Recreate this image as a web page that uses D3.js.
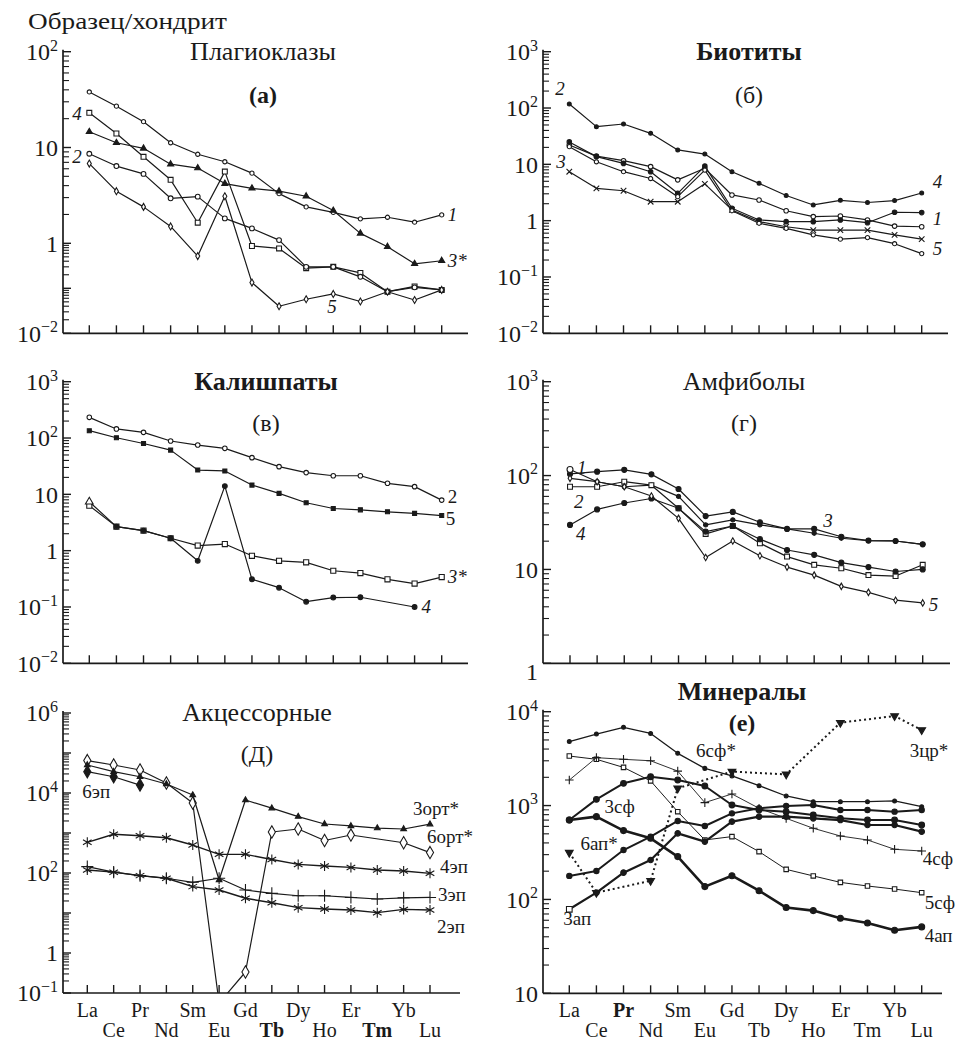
<!DOCTYPE html>
<html lang="ru">
<head>
<meta charset="utf-8">
<title>Спектры РЗЭ в минералах</title>
<script src="https://cdn.jsdelivr.net/npm/d3@7"></script>
<style>
  html, body { margin: 0; background: #fff; }
  svg text { font-family: "Liberation Serif", "DejaVu Serif", serif; fill: #1a1a1a; }
</style>
</head>
<body>
<svg id="chart" width="963" height="1043"></svg>
<script>
const REE = ["La", "Ce", "Pr", "Nd", "Sm", "Eu", "Gd", "Tb", "Dy", "Ho", "Er", "Tm", "Yb", "Lu"];

// (а) Плагиоклазы
const plag1 = [38, 27, 18.6, 11.2, 8.5, 7.1, 5.4, 3.3, 2.4, 2.1, 1.8, 1.87, 1.66, 1.98];
const plag2 = [8.6, 6.4, 5.3, 2.95, 3.07, 1.82, 1.43, 1.08, 0.30, 0.30, 0.18, 0.084, 0.105, 0.092];
const plag3 = [14.6, 11.2, 9.8, 6.7, 6.1, 4.2, 3.75, 3.5, 3.1, 2.2, 1.27, 0.84, 0.35, 0.41];
const plag4 = [23, 14, 8.0, 4.6, 1.64, 5.6, 0.87, 0.77, 0.28, 0.30, 0.22, 0.084, 0.11, 0.092];
const plag5 = [6.8, 3.5, 2.4, 1.5, 0.52, 3.1, 0.134, 0.040, 0.057, 0.075, 0.051, 0.084, 0.055, 0.092];

// (б) Биотиты
const bioTop = [118, 46.7, 52, 35.5, 18, 15.2, 7.4, 4.6, 2.8, 1.9, 2.3, 2.1, 2.27, 3.1];
const bioMid = [22, 14, 11.6, 9.1, 5.3, 8.5, 2.86, 2.33, 1.5, 1.18, 1.21, 1.03, 0.80, 0.78];
const bio1 = [25, 13.7, 10.4, 7.4, 3.06, 9.3, 1.66, 1.03, 0.96, 0.96, 1.03, 0.92, 1.41, 1.39];
const bio3 = [7.4, 3.75, 3.4, 2.17, 2.17, 4.5, 1.55, 0.96, 0.78, 0.68, 0.68, 0.68, 0.56, 0.47];
const bio5 = [20.6, 11.1, 7.4, 5.6, 2.67, 7.9, 1.5, 0.90, 0.73, 0.56, 0.47, 0.50, 0.39, 0.26];

// (в) Калишпаты
const ksp2 = [233, 145, 126, 88.5, 75, 65.6, 44.8, 31, 24.3, 21.4, 21.4, 15.7, 13.7, 7.9];
const ksp5 = [135, 101, 80, 61, 27, 26, 14.6, 10.4, 7.1, 5.6, 5.3, 4.9, 4.6, 4.2];
const ksp3 = [6.3, 2.67, 2.27, 1.66, 1.23, 1.31, 0.81, 0.66, 0.62, 0.44, 0.40, 0.31, 0.26, 0.34];
const ksp4 = [7.4, 2.67, 2.27, 1.66, 0.66, 14, 0.31, 0.22, 0.124, 0.147, 0.149, null, 0.10, null];

// (г) Амфиболы
const amph1 = [116, 86, 76, 79, 60, 29.8, 33.7, 29.8, 27, 24.3, 21.5, 20.3, 20.1, 18.5];
const amph2 = [76, 76, 86, 79, 44.8, 23.9, 29, 19, 13.7, 11.2, 10.3, 8.7, 8.5, 11.2];
const amph3 = [104, 110, 115, 103, 72, 37, 41, 31.8, 27, 27, 22.3, 20.3, 20.1, 18.5];
const amph4 = [29.8, 43.6, 51, 57, 44.8, 25.3, 29, 21, 16.1, 14.3, 11.8, 10.6, 9.5, 10.0];
const amph5 = [93.5, 86, 76, 60.5, 35, 13.4, 20.1, 14, 10.6, 8.7, 6.6, 5.7, 4.7, 4.4];

// (Д) Акцессорные
const acc6ort = [64600, 50100, 37600, 17800, 5620, 0.056, 0.335, 1060, 1260, 650, 890, null, 570, 324];
const acc3ort = [50100, 34100, 25500, 16800, 8900, 67, 6680, 4170, 2570, 1680, 1500, 1320, 1260, 1660];
const acc6ep = [34100, 25500, 15800, null, null, null, null, null, null, null, null, null, null, null];
const acc4ep = [584, 930, 855, 760, 500, 293, 293, 218, 164, 150, 138, 119, 112, 98];
const acc3ep = [144, 105, 86, 74, 58.6, 74, 37.6, 31, 27, 27, 24.5, 22.4, 24, 24.5];
const acc2ep = [119, 105, 86, 74, 45.7, 37.6, 23.4, 18.1, 13.6, 12.6, 11.9, 10.2, 12.3, 11.9];

// (е) Минералы
const min6sf = [4800, 5780, 6810, 5870, 3600, 2490, 2070, 1630, 1265, 1100, 1100, 1100, 1120, 973];
const min5sf = [3370, 3110, 2550, 1830, 861, 430, 467, 323, 209, 178, 152, 139, 129, 118];
const min4sf = [1870, 3240, 3110, 3000, 2330, 1075, 1330, 935, 731, 573, 474, 430, 342, 328];
const min3sf = [701, 1165, 1725, 2030, 1870, 1615, 1014, 898, 861, 794, 731, 701, 701, 621];
const min6ap = [178, 201, 336, 467, 686, 606, 826, 935, 989, 1014, 898, 898, 861, 898];
const min3ap = [78.5, 118, 193, 263, 506, 413, 675, 762, 762, 731, 701, 621, 621, 527];
const min4ap = [701, 762, 541, 448, 286, 137, 179, 124, 82, 76, 63, 56, 47, 51];
const min3cr = [315, 118, null, 158, 1527, null, 2300, null, 2150, null, 7640, null, 9000, 6380];

const ink = "#1a1a1a";
const svg = d3.select("#chart");
const defs = svg.append("defs");

const sym = {
  circle: d3.symbolCircle, square: d3.symbolSquare, triangle: d3.symbolTriangle,
  diamond: d3.symbolDiamond, plus: d3.symbolPlus, times: d3.symbolTimes, asterisk: d3.symbolAsterisk
};
const strokeOnly = new Set(["plus", "times", "asterisk"]);

// panel settings
const panels = [
  {
    title: "Плагиоклазы", tx: 263, ty: 60, sub: "(а)", subBold: true, sy: 103,
    x0: 63, xEnd: 468, xr: [89.3, 441.7], yd: [0.01, 1, 100], yr: [333.3, 243.3, 51.7],
    yTicks: [[100, "10", "2"], [10, "10"], [1, "1"], [0.01, "10", "−2"]],
    series: [
      {v: plag1, m: {t: "circle", s: 14}},
      {v: plag3, m: {t: "triangle", s: 16, f: true}},
      {v: plag4, m: {t: "square", s: 24}},
      {v: plag2, m: {t: "circle", s: 18}},
      {v: plag5, m: {t: "diamond", s: 14}}
    ],
    labels: [
      {t: "4", s: 2, i: 0, dx: -17, dy: 7, it: true},
      {t: "2", s: 3, i: 0, dx: -17, dy: 9, it: true},
      {t: "1", s: 0, i: 13, dx: 6, dy: 6, it: true},
      {t: "3*", s: 1, i: 13, dx: 6, dy: 6, it: true},
      {t: "5", s: 4, i: 9, dx: -6, dy: 19, it: true}
    ]
  },
  {
    title: "Биотиты", titleBold: true, tx: 749, ty: 60, sub: "(б)", sy: 103,
    x0: 543, xEnd: 948, xr: [569.3, 921.7], yd: [0.01, 1000], yr: [333.3, 51.7],
    yTicks: [[1000, "10", "3"], [100, "10", "2"], [10, "10"], [1, "1"], [0.1, "10", "−1"], [0.01, "10", "−2"]],
    series: [
      {v: bioTop, m: {t: "circle", s: 12, f: true}},
      {v: bioMid, m: {t: "circle", s: 16}},
      {v: bio1, m: {t: "circle", s: 16, f: true}},
      {v: bio3, m: {t: "times", s: 22}},
      {v: bio5, m: {t: "circle", s: 14}}
    ],
    labels: [
      {t: "2", s: 0, i: 0, dx: -14, dy: -9, it: true},
      {t: "3", s: 3, i: 0, dx: -13, dy: -4, it: true},
      {t: "4", s: 0, i: 13, dx: 11, dy: -5, it: true},
      {t: "1", s: 2, i: 13, dx: 11, dy: 12, it: true},
      {t: "5", s: 4, i: 13, dx: 11, dy: 1, it: true}
    ]
  },
  {
    title: "Калишпаты", titleBold: true, tx: 266, ty: 390, sub: "(в)", sy: 431,
    x0: 63, xEnd: 468, xr: [89.3, 441.7], yd: [0.01, 1000], yr: [663.3, 381.7],
    yTicks: [[1000, "10", "3"], [100, "10", "2"], [10, "10"], [1, "1"], [0.1, "10", "−1"], [0.01, "10", "−2"]],
    series: [
      {v: ksp2, m: {t: "circle", s: 16}},
      {v: ksp5, m: {t: "square", s: 16, f: true}},
      {v: ksp3, m: {t: "square", s: 26}},
      {v: ksp4, m: {t: "circle", s: 18, f: true}, m0: {t: "triangle", s: 26}}
    ],
    labels: [
      {t: "2", s: 0, i: 13, dx: 6, dy: 3},
      {t: "5", s: 1, i: 13, dx: 4, dy: 9},
      {t: "3*", s: 2, i: 13, dx: 6, dy: 6, it: true},
      {t: "4", s: 3, i: 12, dx: 7, dy: 6, it: true}
    ]
  },
  {
    title: "Амфиболы", tx: 744, ty: 390, sub: "(г)", sy: 431,
    x0: 543, xEnd: 950, xr: [570, 922.7], yd: [1, 1000], yr: [663.3, 381.7],
    yTicks: [[1000, "10", "3"], [100, "10", "2"], [10, "10"], [1, "1", "", 8]],
    series: [
      {v: amph3, m: {t: "circle", s: 20, f: true}},
      {v: amph1, m: {t: "circle", s: 14, f: true}, m0: {t: "circle", s: 28}},
      {v: amph2, m: {t: "square", s: 24}},
      {v: amph4, m: {t: "circle", s: 20, f: true}},
      {v: amph5, m: {t: "diamond", s: 12}}
    ],
    labels: [
      {t: "1", s: 1, i: 0, dx: 7, dy: 4, it: true},
      {t: "2", s: 2, i: 0, dx: 4, dy: 21, it: true},
      {t: "4", s: 3, i: 0, dx: 6, dy: 15, it: true},
      {t: "3", s: 0, i: 9, dx: 9, dy: -2, it: true},
      {t: "5", s: 4, i: 13, dx: 6, dy: 8, it: true}
    ]
  },
  {
    title: "Акцессорные", tx: 257, ty: 721, sub: "(Д)", sy: 762,
    x0: 63, xEnd: 460, xr: [87.3, 430], yd: [0.1, 1e6], yr: [993, 713],
    yTicks: [[1e6, "10", "6"], [1e4, "10", "4"], [100, "10", "2"], [1, "1"], [0.1, "10", "−1"]],
    xLabels: true, boldX: ["Tb", "Tm"],
    series: [
      {v: acc6ort, m: {t: "diamond", s: 44}},
      {v: acc3ort, m: {t: "triangle", s: 14, f: true}},
      {v: acc6ep, m: {t: "diamond", s: 44, f: true}},
      {v: acc4ep, m: {t: "asterisk", s: 70}, w: 1.4},
      {v: acc3ep, m: {t: "plus", s: 50}},
      {v: acc2ep, m: {t: "asterisk", s: 70}, w: 1.4}
    ],
    labels: [
      {t: "6эп", s: 2, i: 0, dx: -5, dy: 26},
      {t: "3орт*", s: 1, i: 13, dx: -17, dy: -9},
      {t: "6орт*", s: 0, i: 13, dx: -3, dy: -10},
      {t: "4эп", s: 3, i: 13, dx: 10, dy: 0},
      {t: "3эп", s: 4, i: 13, dx: 8, dy: 4},
      {t: "2эп", s: 5, i: 13, dx: 7, dy: 23}
    ]
  },
  {
    title: "Минералы", titleBold: true, tx: 742, ty: 700, sub: "(е)", subBold: true, sy: 731,
    x0: 543, xEnd: 942, xr: [569.3, 921.7], yd: [10, 1e4], yr: [993.3, 711.7],
    yTicks: [[1e4, "10", "4"], [1000, "10", "3"], [100, "10", "2"], [10, "10"]],
    xLabels: true, boldX: ["Pr"],
    series: [
      {v: min3cr, m: {t: "triangle", s: 26, f: true, rot: 180}, w: 2, dash: "2,3"},
      {v: min6sf, m: {t: "circle", s: 12, f: true}, w: 1.3},
      {v: min5sf, m: {t: "square", s: 20}, w: 1},
      {v: min4sf, m: {t: "plus", s: 26}, w: 0.9},
      {v: min3sf, m: {t: "circle", s: 26, f: true}, w: 2},
      {v: min6ap, m: {t: "circle", s: 22, f: true}, w: 2},
      {v: min3ap, m: {t: "circle", s: 24, f: true}, m0: {t: "square", s: 32}, w: 2.2},
      {v: min4ap, m: {t: "circle", s: 28, f: true}, w: 2.6}
    ],
    labels: [
      {t: "6сф*", s: 1, i: 6, dx: -36, dy: -19},
      {t: "3цр*", s: 0, i: 13, dx: -12, dy: 27},
      {t: "3сф", s: 4, i: 1, dx: 8, dy: 14},
      {t: "6ап*", s: 5, i: 1, dx: -16, dy: -21},
      {t: "3ап", s: 6, i: 0, dx: -6, dy: 16},
      {t: "4сф", s: 3, i: 13, dx: 1, dy: 14},
      {t: "5сф", s: 2, i: 13, dx: 3, dy: 16},
      {t: "4ап", s: 7, i: 13, dx: 3, dy: 15}
    ]
  }
];

// common y title
svg.append("text")
  .attr("x", 28).attr("y", 29)
  .attr("textLength", 199).attr("lengthAdjust", "spacingAndGlyphs")
  .style("font-size", "24px")
  .text("Образец/хондрит");

panels.forEach((p, pi) => {
  const x = d3.scalePoint().domain(REE).range(p.xr);
  const y = d3.scaleLog().domain(p.yd).range(p.yr);
  const yBottom = p.yr[0], yTop = p.yr[p.yr.length - 1];
  const g = svg.append("g").attr("class", "panel");

  // axis lines
  g.append("line")
    .attr("x1", p.x0).attr("x2", p.x0).attr("y1", yTop - 2).attr("y2", yBottom)
    .attr("stroke", ink).attr("stroke-width", 1.7);
  g.append("line")
    .attr("x1", p.x0).attr("x2", p.xEnd).attr("y1", yBottom).attr("y2", yBottom)
    .attr("stroke", ink).attr("stroke-width", 1.7);

  // log ticks, pointing inward
  const lo = Math.round(Math.log10(p.yd[0])), hi = Math.round(Math.log10(p.yd[p.yd.length - 1]));
  const major = d3.range(lo, hi + 1).map(e => Math.pow(10, e));
  const minor = [];
  d3.range(lo, hi).forEach(e => d3.range(2, 10).forEach(k => minor.push(k * Math.pow(10, e))));
  g.selectAll(".ymin").data(minor).join("line")
    .attr("x1", p.x0).attr("x2", p.x0 + 6)
    .attr("y1", d => y(d)).attr("y2", d => y(d))
    .attr("stroke", ink).attr("stroke-width", 1.1);
  g.selectAll(".ymaj").data(major).join("line")
    .attr("x1", p.x0).attr("x2", p.x0 + 8)
    .attr("y1", d => y(d)).attr("y2", d => y(d))
    .attr("stroke", ink).attr("stroke-width", 1.4);

  g.selectAll(".xt").data(REE).join("line")
    .attr("x1", d => x(d)).attr("x2", d => x(d))
    .attr("y1", yBottom).attr("y2", yBottom - 8)
    .attr("stroke", ink).attr("stroke-width", 1.4);

  // y tick labels with exponents
  const tl = g.selectAll(".yl").data(p.yTicks).join("text")
    .attr("x", p.x0 - 5).attr("y", d => y(d[0]) + (d[3] || 0))
    .attr("dy", "0.35em").attr("text-anchor", "end")
    .style("font-size", "24px");
  tl.append("tspan").text(d => d[1]);
  tl.filter(d => d[2]).append("tspan")
    .attr("dy", "-0.6em").style("font-size", "16px").text(d => d[2]);

  if (p.xLabels) {
    g.selectAll(".xl").data(REE).join("text")
      .attr("x", d => x(d)).attr("y", (d, i) => yBottom + (i % 2 ? 44 : 24))
      .attr("text-anchor", "middle").style("font-size", "20px")
      .style("font-weight", d => p.boldX.includes(d) ? "bold" : null)
      .text(d => d);
  }

  // titles
  g.append("text").attr("x", p.tx).attr("y", p.ty).attr("text-anchor", "middle")
    .style("font-size", "26px").style("font-weight", p.titleBold ? "bold" : null)
    .text(p.title);
  g.append("text").attr("x", p.tx).attr("y", p.sy).attr("text-anchor", "middle")
    .style("font-size", "24px").style("font-weight", p.subBold ? "bold" : null)
    .text(p.sub);

  // data
  defs.append("clipPath").attr("id", "clip" + pi).append("rect")
    .attr("x", p.x0).attr("y", yTop - 40)
    .attr("width", p.xEnd - p.x0 + 10).attr("height", yBottom - yTop + 40);
  const plot = g.append("g").attr("clip-path", `url(#clip${pi})`);
  const line = d3.line().x(d => x(d.k)).y(d => y(d.v));

  p.series.forEach(s => {
    const pts = s.v.map((v, i) => ({k: REE[i], v, i})).filter(d => d.v != null);
    plot.append("path").datum(pts)
      .attr("d", line).attr("fill", "none")
      .attr("stroke", ink).attr("stroke-width", s.w || 1.2)
      .attr("stroke-linejoin", "round")
      .attr("stroke-dasharray", s.dash || null);
    const mk = d => (d.i === 0 && s.m0) ? s.m0 : s.m;
    plot.selectAll(null).data(pts).join("path")
      .attr("d", d => d3.symbol(sym[mk(d).t], mk(d).s)())
      .attr("transform", d => `translate(${x(d.k)},${y(d.v)}) rotate(${mk(d).rot || 0})`)
      .attr("fill", d => strokeOnly.has(mk(d).t) ? "none" : (mk(d).f ? ink : "#fff"))
      .attr("stroke", ink).attr("stroke-width", 1.1);
  });

  p.labels.forEach(l => {
    const s = p.series[l.s];
    g.append("text")
      .attr("x", x(REE[l.i]) + l.dx).attr("y", y(s.v[l.i]) + l.dy)
      .style("font-size", "19px")
      .style("font-style", l.it ? "italic" : null)
      .text(l.t);
  });
});
</script>
</body>
</html>
